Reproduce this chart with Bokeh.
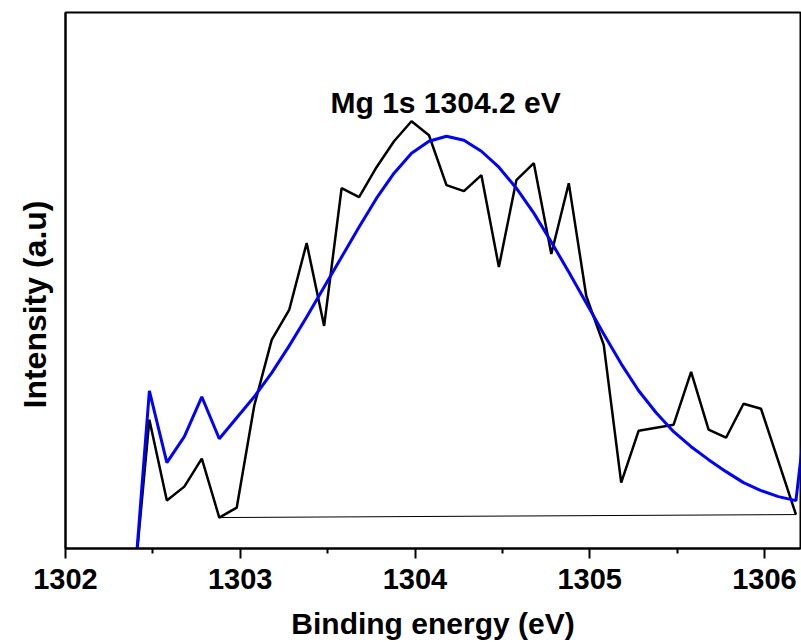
from bokeh.plotting import figure
from bokeh.models import Range1d, FixedTicker, ColumnDataSource, Title
from bokeh.core.properties import value
from bokeh.embed import file_html
from bokeh.resources import INLINE

# Binding energy (eV) of each data point
energy = [1302.38, 1302.48, 1302.58, 1302.68, 1302.78, 1302.88, 1302.98,
          1303.08, 1303.18, 1303.28, 1303.38, 1303.48, 1303.58, 1303.68,
          1303.78, 1303.88, 1303.98, 1304.08, 1304.18, 1304.28, 1304.38,
          1304.48, 1304.58, 1304.68, 1304.78, 1304.88, 1304.98, 1305.08,
          1305.18, 1305.28, 1305.38, 1305.48, 1305.58, 1305.68, 1305.78,
          1305.88, 1305.98, 1306.08, 1306.18]

# measured intensity (a.u.)
measured = [-60, 129, 48, 62, 90, 31, 41,
            143, 209, 239, 306, 223, 361, 352,
            382, 408, 428, 414, 364, 358, 374,
            282, 369, 386, 295, 366, 253, 204,
            66, 118, 121, 124, 177, 119, 111,
            145, 140, 87, 34]

# fitted envelope (a.u.)
fit_energy = energy + [1306.28]
fitted = [-67, 158, 86, 112, 152, 110, 131,
          152, 176, 203, 232, 262, 292, 322,
          351, 376, 396, 408, 413, 409, 398,
          382, 361, 336, 307, 277, 246, 215,
          185, 158, 136, 117, 102, 89, 77,
          66, 58, 52, 48, 200]

# linear background
bg_energy = [1302.88, 1306.18]
bg_level = [31, 34]

x_ticks = [1302, 1303, 1304, 1305, 1306]
x_minor = [1302.5, 1303.5, 1304.5, 1305.5]
peak_label = "Mg 1s 1304.2 eV"
peak_label_pos = (1304.175, 447)
y_title = "Intensity (a.u)"

FONT = "Liberation Sans"

p = figure(width=801, height=642, output_backend="svg", toolbar_location=None,
           x_range=Range1d(1302, 1306.206), y_range=Range1d(0, 537),
           min_border_left=65, min_border_right=1, min_border_top=12,
           min_border_bottom=93)

p.background_fill_color = "white"
p.border_fill_color = "white"
p.outline_line_color = "black"
p.outline_line_width = 2
p.xgrid.visible = False
p.ygrid.visible = False

p.line(energy, measured, line_color="black", line_width=2.5)
p.line(fit_energy, fitted, line_color="#0000FF", line_width=3)
p.line(bg_energy, bg_level, line_color="black", line_width=1)

src = ColumnDataSource(dict(x=[peak_label_pos[0]], y=[peak_label_pos[1]], t=[peak_label]))
p.text(x="x", y="y", text="t", source=src, text_font=value(FONT),
       text_font_style="bold", text_font_size="30px", text_align="center",
       text_baseline="alphabetic", text_color="black")

xa = p.xaxis[0]
xa.ticker = FixedTicker(ticks=x_ticks, minor_ticks=x_minor)
xa.axis_label = "Binding energy (eV)"
xa.axis_label_text_font = FONT
xa.axis_label_text_font_style = "bold"
xa.axis_label_text_font_size = "30px"
xa.axis_label_text_color = "black"
xa.axis_label_standoff = 15
xa.major_label_text_font = FONT
xa.major_label_text_font_style = "bold"
xa.major_label_text_font_size = "29px"
xa.major_label_text_color = "black"
xa.major_label_standoff = 10
xa.axis_line_width = 2
xa.major_tick_line_width = 2
xa.minor_tick_line_width = 2
xa.major_tick_in = 0
xa.major_tick_out = 10
xa.minor_tick_in = 0
xa.minor_tick_out = 5

ya = p.yaxis[0]
ya.ticker = FixedTicker(ticks=[])
ya.major_label_text_font_size = "0px"
ya.axis_line_width = 2
ya.major_tick_out = 0
ya.minor_tick_out = 0

ytitle = Title(text=y_title, align="left", offset=140, standoff=26,
               text_font=FONT, text_font_style="bold", text_font_size="32px",
               text_color="black")
p.add_layout(ytitle, "left")

open("out.html", "w").write(file_html(p, INLINE))
